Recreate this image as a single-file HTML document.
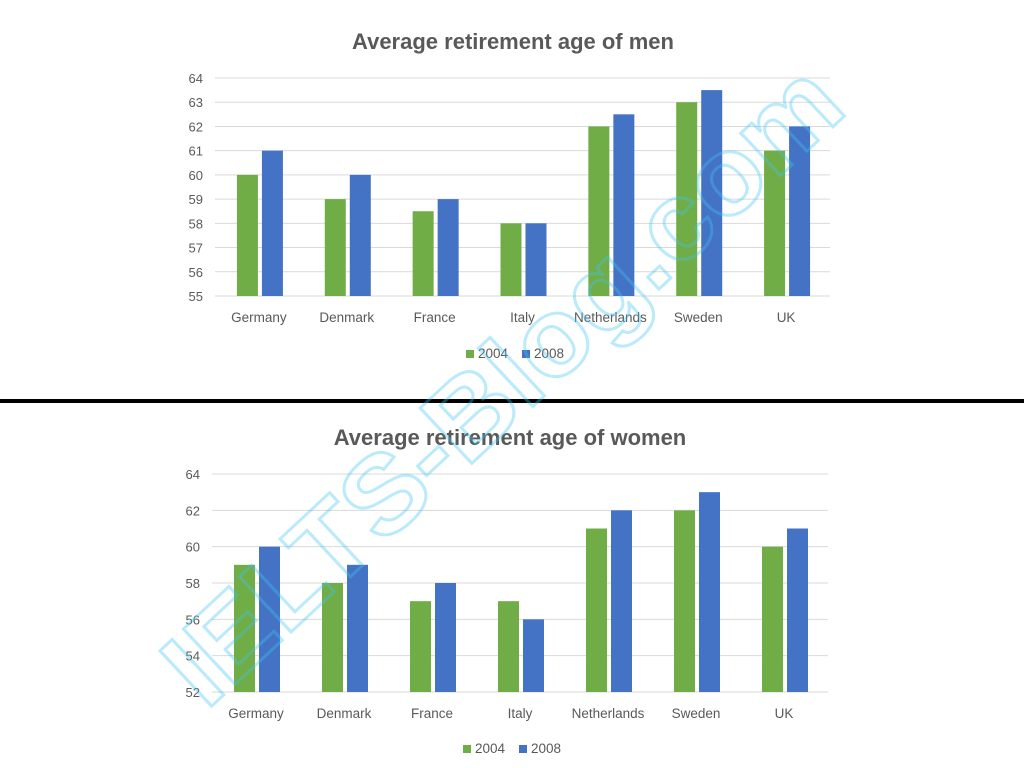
<!DOCTYPE html>
<html><head><meta charset="utf-8"><style>
html,body{margin:0;padding:0;background:#fff;width:1024px;height:768px;overflow:hidden}
svg{display:block}
</style></head><body>
<svg id="root" width="1024" height="768" xmlns="http://www.w3.org/2000/svg" font-family="Liberation Sans, sans-serif" overflow="hidden">
<rect x="0" y="399" width="1024" height="4" fill="#000"/>
<g id="top"></g>
<g id="bottom"></g>
<text x="508" y="390" transform="rotate(-43 508 390)" text-anchor="middle" dominant-baseline="middle" font-size="110" font-weight="bold" fill="none" stroke="#3fc6f2" stroke-width="3" opacity="0.35" textLength="880" lengthAdjust="spacingAndGlyphs">IELTS-Blog.com</text>
</svg>
<script>
const categories=["Germany","Denmark","France","Italy","Netherlands","Sweden","UK"];
const men2004=[60,59,58.5,58,62,63,61];
const men2008=[61,60,59,58,62.5,63.5,62];
const women2004=[59,58,57,57,61,62,60];
const women2008=[60,59,58,56,62,63,61];
const menTicks=[55,56,57,58,59,60,61,62,63,64];
const womenTicks=[52,54,56,58,60,62,64];
const seriesNames=["2004","2008"];
const colors=["#70ad47","#4472c4"];
const NS="http://www.w3.org/2000/svg";
function mk(tag,attrs,parent){const e=document.createElementNS(NS,tag);for(const k in attrs)e.setAttribute(k,attrs[k]);parent.appendChild(e);return e;}
function chart(g,cfg,title,ticks,s1,s2){
  const ymin=ticks[0],ymax=ticks[ticks.length-1];
  const y=v=>cfg.y1-(v-ymin)/(ymax-ymin)*(cfg.y1-cfg.y0);
  const bw=(cfg.x1-cfg.x0)/categories.length;
  const t=mk('text',{x:cfg.tx,y:cfg.ty,'text-anchor':'middle','font-size':22,'font-weight':'bold',fill:'#595959'},g);
  t.textContent=title;
  
  
  ticks.forEach(v=>{
    const l=mk('line',{x1:cfg.x0,x2:cfg.x1,y1:y(v),y2:y(v),stroke:'#d9d9d9','stroke-width':1},g);
    
    
    const tx=mk('text',{x:cfg.x0-12,y:y(v)+5,'text-anchor':'end','font-size':13,fill:'#595959'},g);
    tx.textContent=v;
    
    
  });
  categories.forEach((c,i)=>{
    const cx=cfg.x0+bw*(i+0.5);
    [s1,s2].forEach((s,j)=>{
      const x=j===0?cx-22:cx+3;
      const r=mk('rect',{x:x,y:y(s[i]),width:21,height:y(ymin)-y(s[i]),fill:colors[j]},g);
      
      
    });
    const lt=mk('text',{x:cx,y:cfg.y1+26,'text-anchor':'middle','font-size':13.5,fill:'#595959'},g);
    lt.textContent=c;
    
    
  });
  seriesNames.forEach((n,j)=>{
    const lx=cfg.lx+j*56;
    const sq=mk('rect',{x:lx,y:cfg.ly-8,width:8,height:8,fill:colors[j]},g);
    
    
    const lt=mk('text',{x:lx+12,y:cfg.ly,'font-size':13.5,fill:'#595959'},g);
    lt.textContent=n;
    
    
  });
}
chart(document.getElementById('top'),{x0:215,x1:830,y0:78,y1:296,tx:513,ty:49,lx:466,ly:358},"Average retirement age of men",menTicks,men2004,men2008);
chart(document.getElementById('bottom'),{x0:212,x1:828,y0:474,y1:692,tx:510,ty:445,lx:463,ly:753},"Average retirement age of women",womenTicks,women2004,women2008);
</script>
</body></html>
